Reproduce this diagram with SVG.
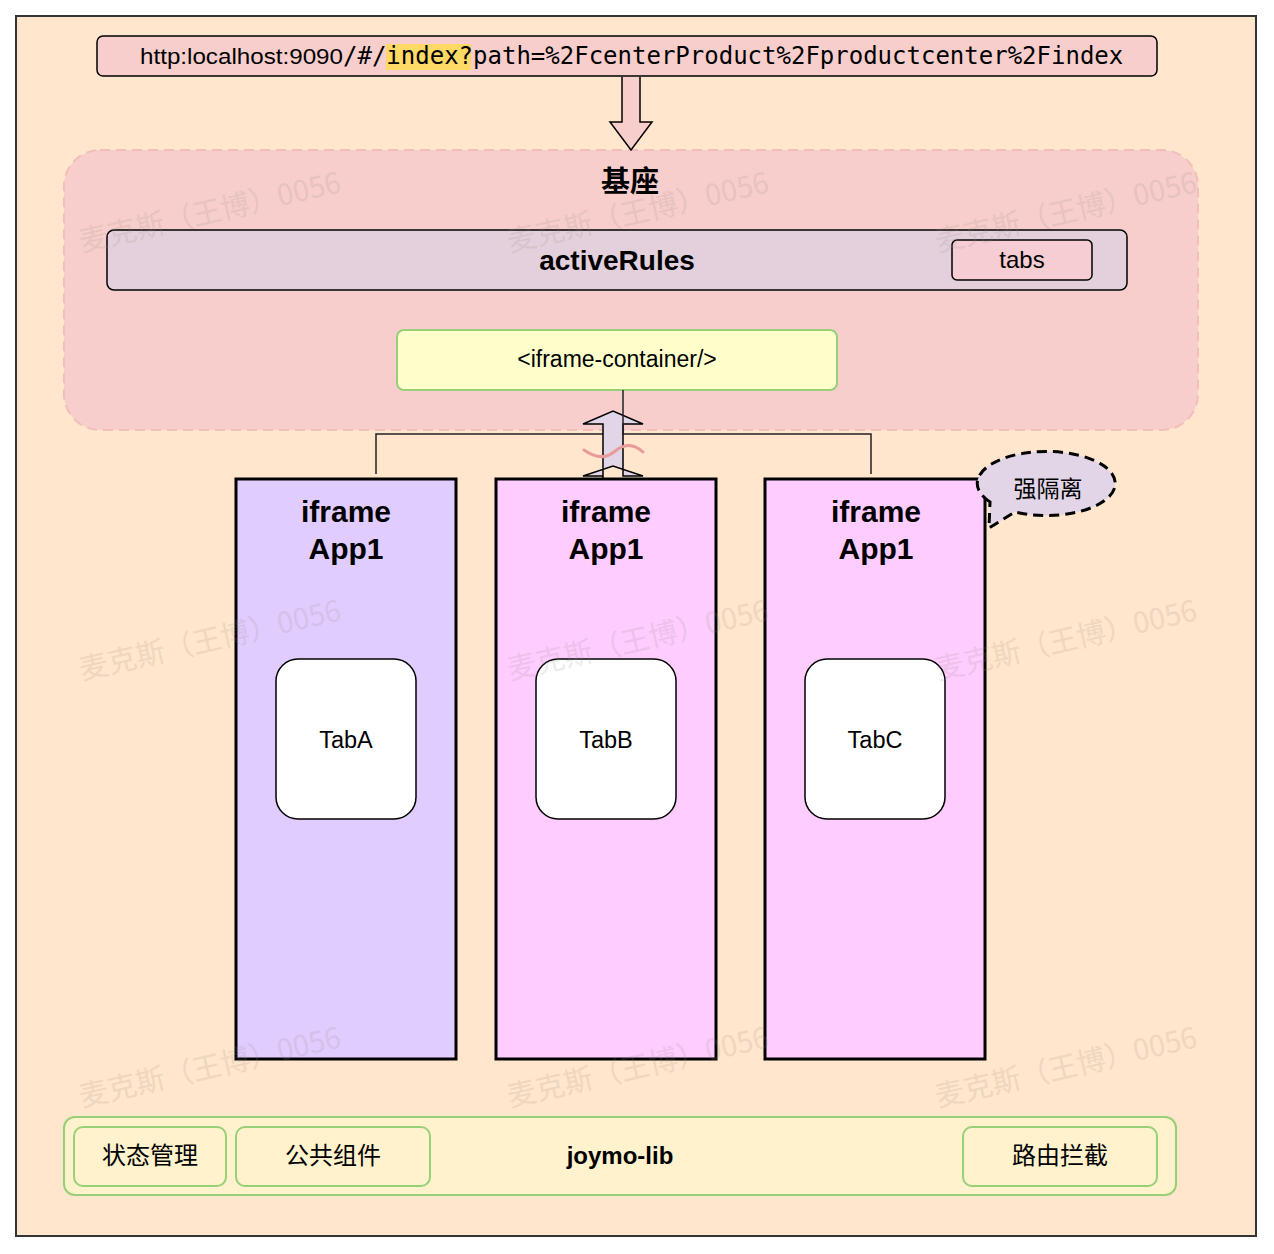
<svg xmlns="http://www.w3.org/2000/svg" width="1274" height="1254" viewBox="0 0 1274 1254">
<style>
.sans{font-family:"Liberation Sans","Noto Sans CJK SC",Arial,sans-serif;}
.mono{font-family:"DejaVu Sans Mono","Liberation Mono",monospace;}
.cjk{font-family:"Noto Sans CJK SC","Liberation Sans",sans-serif;}
.bold{font-weight:bold;}
.app{stroke:#000;stroke-width:3;}
.tab{fill:#fff;stroke:#000;stroke-width:1.5;}
.lib{fill:#FFF2CC;stroke:#97D077;stroke-width:2;}
.conn{fill:none;stroke:#222;stroke-width:1.5;}
.wm{font-family:"Noto Sans CJK SC",sans-serif;font-size:29px;fill:#9a8f88;opacity:0.17;}
</style>
<rect x="16" y="16" width="1240" height="1220" fill="#FFE6CC" stroke="#333" stroke-width="2"/>

<g id="url">
<rect x="97" y="36" width="1060" height="40" rx="6" fill="#F8CECC" stroke="#000" stroke-width="1.5"/>
<rect x="386" y="44" width="85" height="26" fill="#FFD966"/>
<text x="140" y="64" class="sans" font-size="22" textLength="203" lengthAdjust="spacingAndGlyphs">http:localhost:9090</text>
<text x="343" y="64" class="mono" font-size="24">/#/index?path=%2FcenterProduct%2Fproductcenter%2Findex</text>
</g>

<g id="base">
<rect x="64" y="150" width="1134" height="280" rx="36" fill="#F8CECC" stroke="#F2BDBA" stroke-width="2" stroke-dasharray="10 6"/>
<text x="630" y="192" class="cjk bold" font-size="29" text-anchor="middle">基座</text>
</g>

<g id="activeRules">
<rect x="107" y="230" width="1020" height="60" rx="7" fill="#E4D0DC" stroke="#000" stroke-width="1.5"/>
<text x="617" y="270" class="sans bold" font-size="28" text-anchor="middle">activeRules</text>
</g>
<g id="tabs">
<rect x="952" y="240" width="140" height="40" rx="5" fill="#F6CDD3" stroke="#000" stroke-width="1.5"/>
<text x="1022" y="268" class="sans" font-size="24" text-anchor="middle">tabs</text>
</g>

<g id="iframe-container">
<rect x="397" y="330" width="440" height="60" rx="7" fill="#FFFFCC" stroke="#97D077" stroke-width="2"/>
<text x="617" y="367" class="sans" font-size="23" text-anchor="middle">&lt;iframe-container/&gt;</text>
</g>

<g id="connectors">
<path d="M622 77 L622 122 L610 122 L631 150 L652 122 L640 122 L640 77" fill="#F8CECC" stroke="#000" stroke-width="1.5"/>
<path class="conn" d="M376 474 L376 434 L871 434 L871 474"/>
<path d="M603 490 L603 476 L583 476 L613 466 L643 476 L623 476 L623 424 L643 424 L613 411 L583 424 L603 424 Z" fill="#E1D5E7" stroke="#000" stroke-width="1.5"/>
<path class="conn" d="M623 390 L623 434"/>
<path d="M584 450 C594 457 604 460 614 452 C622 445 632 442 643 452" fill="none" stroke="#EA9A9A" stroke-width="3" stroke-linecap="round"/>
</g>

<g id="app1">
<rect x="236" y="479" width="220" height="580" class="app" fill="#E1CCFF"/>
<text x="346" y="522" class="sans bold" font-size="30" text-anchor="middle">iframe</text>
<text x="346" y="559" class="sans bold" font-size="30" text-anchor="middle">App1</text>
</g>
<g id="app2">
<rect x="496" y="479" width="220" height="580" class="app" fill="#FFCCFF"/>
<text x="606" y="522" class="sans bold" font-size="30" text-anchor="middle">iframe</text>
<text x="606" y="559" class="sans bold" font-size="30" text-anchor="middle">App1</text>
</g>
<g id="app3">
<rect x="765" y="479" width="220" height="580" class="app" fill="#FFCCFF"/>
<text x="876" y="522" class="sans bold" font-size="30" text-anchor="middle">iframe</text>
<text x="876" y="559" class="sans bold" font-size="30" text-anchor="middle">App1</text>
</g>

<g id="tabA">
<rect x="276" y="659" width="140" height="160" rx="22" class="tab"/>
<text x="346" y="748" class="sans" font-size="23.5" text-anchor="middle">TabA</text>
</g>
<g id="tabB">
<rect x="536" y="659" width="140" height="160" rx="22" class="tab"/>
<text x="606" y="748" class="sans" font-size="23.5" text-anchor="middle">TabB</text>
</g>
<g id="tabC">
<rect x="805" y="659" width="140" height="160" rx="22" class="tab"/>
<text x="875" y="748" class="sans" font-size="23.5" text-anchor="middle">TabC</text>
</g>

<g id="isolation">
<path d="M990 502 A69 32 0 1 1 1015 512 L989 528 Z" fill="#E1D5E7" stroke="#000" stroke-width="3" stroke-dasharray="10 6"/>
<text x="1048" y="497" class="cjk" font-size="23" text-anchor="middle">强隔离</text>
</g>

<g id="lib">
<rect x="64" y="1117" width="1112" height="78" rx="11" class="lib"/>
<text x="620" y="1164" class="sans bold" font-size="24" text-anchor="middle">joymo-lib</text>
</g>
<g id="state">
<rect x="74" y="1127" width="152" height="59" rx="9" class="lib"/>
<text x="150" y="1164" class="cjk" font-size="24" text-anchor="middle">状态管理</text>
</g>
<g id="common">
<rect x="236" y="1127" width="194" height="59" rx="9" class="lib"/>
<text x="333" y="1164" class="cjk" font-size="24" text-anchor="middle">公共组件</text>
</g>
<g id="router">
<rect x="963" y="1127" width="194" height="59" rx="9" class="lib"/>
<text x="1060" y="1164" class="cjk" font-size="24" text-anchor="middle">路由拦截</text>
</g>

<g id="watermarks">
<text class="wm" transform="translate(82 252) rotate(-13)">麦克斯（王博）0056</text>
<text class="wm" transform="translate(510 252) rotate(-13)">麦克斯（王博）0056</text>
<text class="wm" transform="translate(938 252) rotate(-13)">麦克斯（王博）0056</text>
<text class="wm" transform="translate(82 680) rotate(-13)">麦克斯（王博）0056</text>
<text class="wm" transform="translate(510 680) rotate(-13)">麦克斯（王博）0056</text>
<text class="wm" transform="translate(938 680) rotate(-13)">麦克斯（王博）0056</text>
<text class="wm" transform="translate(82 1107) rotate(-13)">麦克斯（王博）0056</text>
<text class="wm" transform="translate(510 1107) rotate(-13)">麦克斯（王博）0056</text>
<text class="wm" transform="translate(938 1107) rotate(-13)">麦克斯（王博）0056</text>
</g>
</svg>
